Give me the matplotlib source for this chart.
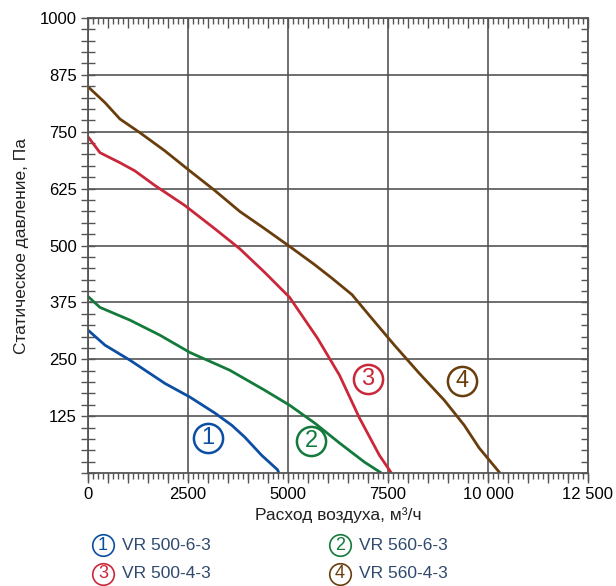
import numpy as np
import matplotlib.pyplot as plt
from matplotlib.ticker import MultipleLocator

plt.rcParams['font.family'] = ['Liberation Sans', 'DejaVu Sans']

# airflow, m3/h  /  static pressure, Pa
q1 = [0, 424, 1048, 1921, 2545, 3168, 3593, 3917, 4341, 4740, 4770]
p1 = [314, 281, 248, 197, 167, 132, 105, 79, 39, 7, 0]

q2 = [0, 299, 1048, 1796, 2545, 3543, 4416, 5040, 5664, 6287, 6911, 7335]
p2 = [388, 364, 336, 303, 265, 226, 182, 149, 110, 66, 24, 0]

q3 = [0, 299, 798, 1172, 1671, 2420, 3168, 3792, 4416, 5040, 5739, 6287, 6786, 7285, 7585]
p3 = [739, 704, 682, 664, 632, 588, 537, 493, 441, 386, 296, 215, 121, 39, 0]

q4 = [0, 424, 798, 1297, 1921, 2545, 3168, 3792, 4416, 5040, 5664, 6100, 6600, 7036,
      7660, 8283, 8907, 9406, 9780, 10300]
p4 = [849, 814, 778, 748, 708, 664, 621, 575, 537, 498, 458, 428, 392, 346,
      281, 219, 160, 105, 55, 0]

names = ['VR 500-6-3', 'VR 560-6-3', 'VR 500-4-3', 'VR 560-4-3']
nums = ['1', '2', '3', '4']
colors = ['#0b4ea2', '#137a3c', '#c9283a', '#6a3d0c']
# where the circled numbers sit on the chart
mark_q = [3000, 5580, 7000, 9350]
mark_p = [77, 70, 207, 202]

xticks = [0, 2500, 5000, 7500, 10000, 12500]
xlabels = ['0', '2500', '5000', '7500', '10 000', '12 500']
yticks = [125, 250, 375, 500, 625, 750, 875, 1000]

grey = '#555555'
fig = plt.figure(figsize=(6.16, 5.86), dpi=100)
ax = fig.add_axes([0.1429, 0.1928, 0.8116, 0.7765])

for q, p, c in zip([q1, q2, q3, q4], [p1, p2, p3, p4], colors):
    ax.plot(q, p, color=c, lw=2, solid_capstyle='butt')

for n, x, y, c in zip(nums, mark_q, mark_p, colors):
    ax.plot(x, y, 'o', ms=21, mfc='none', mec=c, mew=1.8)
    ax.text(x, y, n, color=c, fontsize=17, ha='center', va='center')

ax.set_xlim(0, 12500)
ax.set_ylim(0, 1000)
ax.set_xticks(xticks)
ax.set_xticklabels(xlabels)
ax.set_yticks(yticks)
ax.xaxis.set_minor_locator(MultipleLocator(125))
ax.yaxis.set_minor_locator(MultipleLocator(25))
ax.grid(True, which='major', color=grey, lw=1.2)
for s in ax.spines.values():
    s.set_color(grey)
    s.set_linewidth(1.3)

ax.tick_params(axis='x', which='major', direction='out', length=6, width=1, color=grey,
               labelsize=12, pad=4, top=False)
ax.tick_params(axis='x', which='minor', direction='out', length=4, width=1, color=grey, top=False)
ax.tick_params(axis='y', which='both', direction='inout', length=10, width=1, color=grey,
               labelsize=12, pad=3, right=False)

# extra bottom ticks every 500
sb = ax.secondary_xaxis('bottom')
sb.xaxis.set_major_locator(MultipleLocator(500))
sb.tick_params(direction='out', length=7, width=1, color=grey, labelbottom=False)
sb.spines['bottom'].set_visible(False)

# top ticks pointing inward
st = ax.secondary_xaxis('top')
st.xaxis.set_major_locator(MultipleLocator(500))
st.xaxis.set_minor_locator(MultipleLocator(125))
st.tick_params(which='major', direction='in', length=7, width=1, color=grey, labeltop=False)
st.tick_params(which='minor', direction='in', length=4, width=1, color=grey)
st.spines['top'].set_visible(False)

# right ticks pointing inward
sr = ax.secondary_yaxis('right')
sr.yaxis.set_major_locator(MultipleLocator(25))
sr.tick_params(direction='in', length=5, width=1, color=grey, labelright=False)
sr.spines['right'].set_visible(False)

ax.set_xlabel('Расход воздуха, м³/ч', fontsize=12.5, labelpad=4, color='#222222')
ax.set_ylabel('Статическое давление, Па', fontsize=12.5, labelpad=8, color='#222222')

# legend under the chart
txt = '#2f4a6e'
leg_x = [103, 340]
leg_y = [545, 574]
for i, (n, num, c) in enumerate(zip(names, nums, colors)):
    x = leg_x[i % 2] / 616
    y = 1 - leg_y[i // 2] / 586
    fig.add_artist(plt.Line2D([x], [y], marker='o', ms=15.5, mfc='none', mec=c, mew=1.2,
                              transform=fig.transFigure))
    fig.text(x, y, num, color=c, fontsize=13, ha='center', va='center')
    fig.text(x + 19 / 616, y, n, color=txt, fontsize=12.5, va='center')

fig.savefig('out.png', dpi=100)
